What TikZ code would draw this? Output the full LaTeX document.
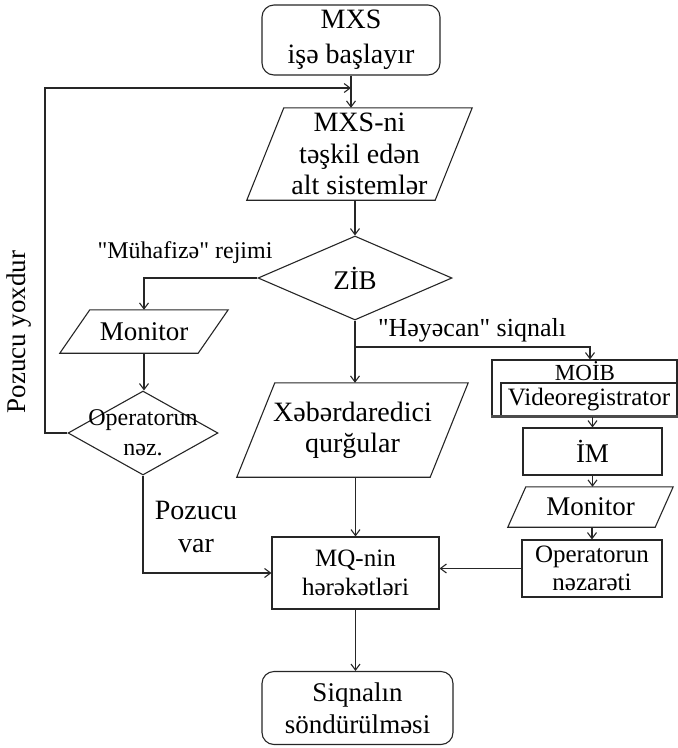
\documentclass[tikz,border=0pt]{standalone}
\usepackage{fontspec}
\setmainfont{Liberation Serif}[Ligatures=TeXOff]
\usetikzlibrary{shapes.geometric,arrows.meta}
\newcommand\fs[2]{\fontsize{#1}{#2}\selectfont}
\newcommand\paraout[2]{\draw[ln, line join=miter] (#1.south west) -- ([xshift=-#2]#1.south east) -- (#1.north east) -- ([xshift=#2]#1.north west) -- cycle;}
\begin{document}
\begin{tikzpicture}[x=1pt,y=-1pt,
  ln/.style={line width=1.1pt, draw=black!85},
  arr/.style={ln, -{Straight Barb[length=6pt,width=9pt,line width=1.1pt]}},
  shp/.style={ln, inner sep=0pt, fill=white},
  pbox/.style={rectangle, inner sep=0pt, align=center},
  lbl/.style={inner sep=0pt, align=center}
]
\path[use as bounding box] (0,0) rectangle (678,748);

% main column
\node[shp, rounded corners=12pt, minimum width=178pt, minimum height=70pt, align=center, font=\fs{28}{35}] (start) at (351,40) {MXS\\işə başlayır};
\node[pbox, minimum width=225pt, minimum height=92pt, font=\fs{28}{31.5}] (mxs) at (359.5,154) {MXS-ni\\təşkil edən\\alt sistemlər};
\paraout{mxs}{37pt}
\node[shp, diamond, aspect=2.3, minimum width=194pt, minimum height=84pt, font=\fs{27}{32}] (zib) at (355,278) {ZİB};
\node[pbox, minimum width=231pt, minimum height=94pt, font=\fs{28}{31}] (xeb) at (352.5,430) {Xəbərdaredici\\qurğular};
\paraout{xeb}{38pt}
\node[shp, minimum width=167pt, minimum height=72pt, align=center, font=\fs{25}{29}] (mq) at (355.5,573) {MQ-nin\\hərəkətləri};
\node[shp, rounded corners=12pt, minimum width=191pt, minimum height=73pt, align=center, font=\fs{27}{32}] (sig) at (357.5,708) {Siqnalın\\söndürülməsi};

% left column
\node[pbox, minimum width=168pt, minimum height=43pt, font=\fs{27}{32}] (mon1) at (144,331.5) {Monitor};
\paraout{mon1}{30pt}
\node[shp, diamond, minimum width=150pt, minimum height=84pt,
      label={[lbl,font=\fs{24}{30}]center:Operatorun\\nəz.}] (opn) at (143,433) {};

% right column
\node[shp, minimum width=185pt, minimum height=56pt] (moib) at (584.5,388) {};
\node[lbl, font=\fs{23}{26}] (moibt) at (585,371) {MOİB};
\node[shp, minimum width=176pt, minimum height=33pt, font=\fs{25}{30}] (vid) at (589,399.5) {Videoregistrator};
\draw[line width=3pt, black!70] (moib.south west) -- (moib.south east);
\node[shp, minimum width=139pt, minimum height=47pt, font=\fs{27}{32}] (im) at (592.5,451.5) {İM};
\node[pbox, minimum width=165pt, minimum height=40pt, font=\fs{27}{32}] (mon2) at (590.5,507) {Monitor};
\paraout{mon2}{18pt}
\node[shp, minimum width=140pt, minimum height=57pt, align=center, font=\fs{25}{28}] (opr) at (592,568.5) {Operatorun\\nəzarəti};

% edge labels
\node[lbl, font=\fs{24}{28}] (lm) at (185,253) {"Mühafizə" rejimi};
\node[lbl, font=\fs{26}{30}] (lh) at (472,330) {"Həyəcan" siqnalı};
\node[lbl, font=\fs{28}{33}] (lv) at (196,527) {Pozucu\\var};
\node[lbl, rotate=90, font=\fs{27}{32}] (ly) at (19,332) {Pozucu yoxdur};

% connectors
\coordinate (lp) at (45,88);
\coordinate (br) at (355,347);
\coordinate (brr) at (590,347);
\draw[arr] (start.south) -- (start.south |- mxs.north);
\draw[arr] (opn.west) -- (opn.west -| lp) -- (lp) -- (lp -| start.south);
\draw[arr] (zib.north |- mxs.south) -- (zib.north);
\draw[arr] (zib.west) -| (mon1.north);
\draw[arr] (mon1.south) -- (mon1.south |- opn.north);
\draw[arr] (opn.south) |- (mq.west);
\draw[arr] (zib.south) -- (zib.south |- xeb.north);
\draw[arr] (br) -- (brr) -- (brr |- moib.north);
\draw[arr] (im.north |- moib.south) -- (im.north);
\draw[arr] (im.south) -- (im.south |- mon2.north);
\draw[arr] (opr.north |- mon2.south) -- (opr.north);
\draw[arr] (opr.west) -- (opr.west -| mq.east);
\draw[arr] (mq.north |- xeb.south) -- (mq.north);
\draw[arr] (mq.south) -- (mq.south |- sig.north);
\end{tikzpicture}
\end{document}
